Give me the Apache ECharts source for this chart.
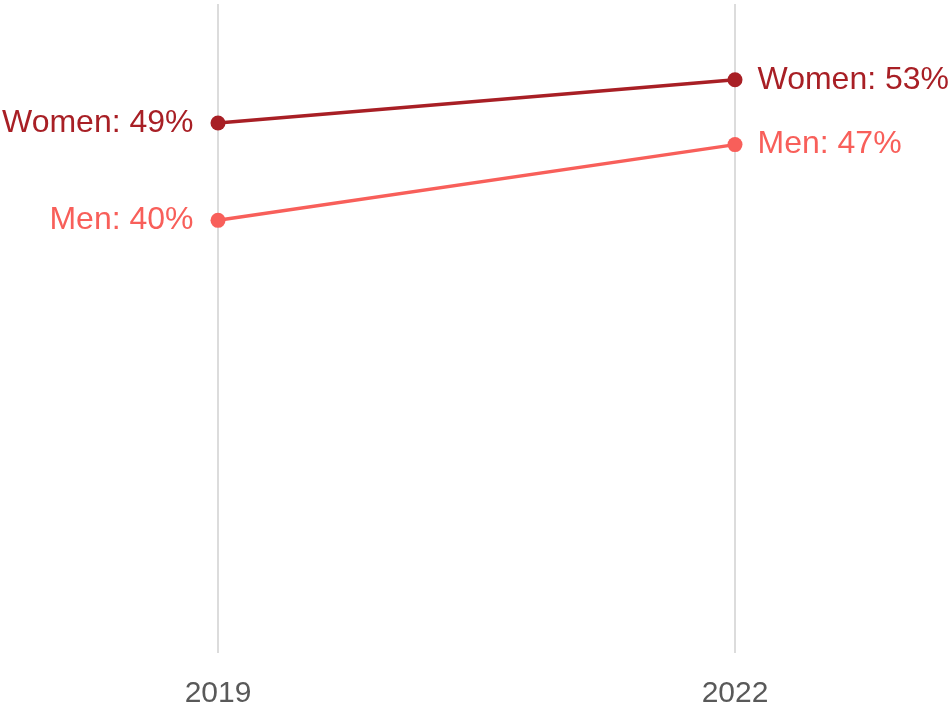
<!DOCTYPE html>
<html>
<head>
<meta charset="utf-8">
<script src="https://cdn.jsdelivr.net/npm/echarts@6/dist/echarts.min.js"></script>
<style>
  html, body { margin: 0; padding: 0; background: #fff; }
  #chart { width: 949px; height: 709px; }
</style>
</head>
<body>
<div id="chart"></div>
<script>
  // slope chart data
  var years = ['2019', '2022'];
  var women = [49, 53];
  var men = [40, 47];

  var chart = echarts.init(document.getElementById('chart'));

  function sideLabels(name, values) {
    return values.map(function (v, i) {
      return {
        value: v,
        label: {
          position: i === 0 ? 'left' : 'right',
          distance: i === 0 ? 17 : 15,
          formatter: name + ': ' + v + '%'
        }
      };
    });
  }

  var option = {
    backgroundColor: '#fff',
    animation: false,
    grid: {
      left: 218,
      right: 214,
      top: 4,
      bottom: 52
    },
    xAxis: {
      type: 'category',
      boundaryGap: false,
      data: years,
      axisLine: { show: false },
      axisTick: { show: false },
      axisLabel: {
        color: '#595959',
        fontSize: 30,
        fontFamily: 'Liberation Sans',
        margin: 26
      },
      splitLine: {
        show: true,
        lineStyle: { color: '#dcdcdc', width: 2 }
      }
    },
    yAxis: {
      type: 'value',
      min: 0,
      max: 60,
      show: false
    },
    series: [
      {
        name: 'Women',
        type: 'line',
        data: sideLabels('Women', women),
        color: '#a81f25',
        symbol: 'circle',
        symbolSize: 15,
        lineStyle: { width: 3.5 },
        label: {
          show: true,
          color: '#a81f25',
          fontSize: 32,
          fontFamily: 'Liberation Sans'
        }
      },
      {
        name: 'Men',
        type: 'line',
        data: sideLabels('Men', men),
        color: '#f85f5a',
        symbol: 'circle',
        symbolSize: 15,
        lineStyle: { width: 3.5 },
        label: {
          show: true,
          color: '#f85f5a',
          fontSize: 32,
          fontFamily: 'Liberation Sans'
        }
      }
    ]
  };

  chart.setOption(option);
  window.addEventListener('resize', function () {
    chart.resize();
  });
</script>
</body>
</html>
